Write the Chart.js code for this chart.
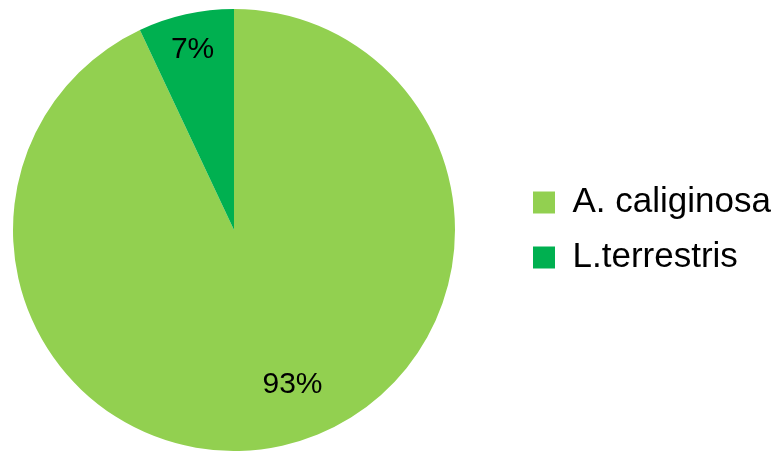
<!DOCTYPE html>
<html>
<head>
<meta charset="utf-8">
<script src="https://cdn.jsdelivr.net/npm/chart.js@4/dist/chart.umd.min.js"></script>
<style>
  html, body { margin: 0; padding: 0; background: #fff; overflow: hidden; }
  #wrap { width: 818px; height: 451px; position: relative; margin-left: -45px; }
</style>
</head>
<body>
<div id="wrap"><canvas id="graficoEspecies"></canvas></div>
<script>
const especies = ['A. caliginosa', 'L.terrestris'];
const percentuais = [93, 7];
const cores = ['#92d050', '#00b050'];

// percentage text inside each slice
const rotulosFatia = {
    id: 'rotulosFatia',
    afterDatasetsDraw(chart) {
        const ctx = chart.ctx;
        const meta = chart.getDatasetMeta(0);
        const raio = [0.745, 0.84];
        const desvio = [-8.2, -0.3];
        ctx.save();
        ctx.font = '30px "Liberation Sans", Arial, sans-serif';
        ctx.fillStyle = '#000';
        ctx.textAlign = 'center';
        ctx.textBaseline = 'middle';
        meta.data.forEach((arc, i) => {
            const p = arc.getProps(['x', 'y', 'startAngle', 'endAngle', 'outerRadius'], true);
            const meio = (p.startAngle + p.endAngle) / 2 + desvio[i] * Math.PI / 180;
            const r = p.outerRadius * raio[i];
            ctx.fillText(percentuais[i] + '%', p.x + Math.cos(meio) * r, p.y + Math.sin(meio) * r + 1);
        });
        ctx.restore();
    }
};

// fixed legend width so the slice area keeps its place
const larguraLegenda = {
    id: 'larguraLegenda',
    beforeInit(chart) {
        const fit = chart.legend.fit;
        chart.legend.fit = function () {
            fit.call(this);
            this.width = 260;
        };
    }
};

const ctx = document.getElementById('graficoEspecies').getContext('2d');
new Chart(ctx, {
    type: 'pie',
    data: {
        labels: especies,
        datasets: [{
            data: percentuais,
            backgroundColor: cores,
            borderWidth: 0
        }]
    },
    options: {
        responsive: true,
        maintainAspectRatio: false,
        animation: false,
        layout: { padding: { left: 0, top: 9, right: 0, bottom: 0 } },
        plugins: {
            tooltip: { enabled: false },
            legend: {
                position: 'right',
                labels: {
                    color: '#000',
                    boxWidth: 22,
                    boxHeight: 22,
                    padding: 20,
                    font: { family: '"Liberation Sans", Arial, sans-serif', size: 35 }
                }
            }
        }
    },
    plugins: [larguraLegenda, rotulosFatia]
});
</script>
</body>
</html>
